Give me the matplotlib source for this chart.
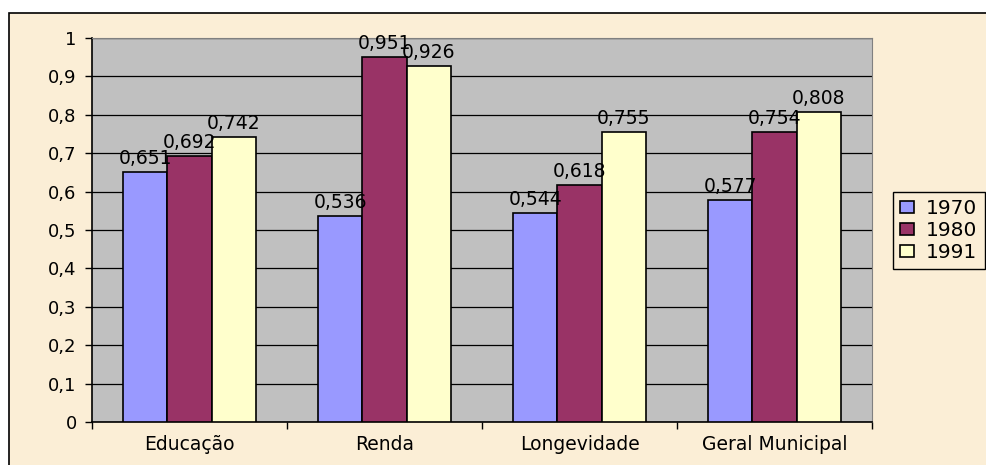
import matplotlib.pyplot as plt
import matplotlib.patches as mpatches
import numpy as np

categories = ["Educação", "Renda", "Longevidade", "Geral Municipal"]
years = ["1970", "1980", "1991"]
v1970 = [0.651, 0.536, 0.544, 0.577]
v1980 = [0.692, 0.951, 0.618, 0.754]
v1991 = [0.742, 0.926, 0.755, 0.808]
yticks = [0, 0.1, 0.2, 0.3, 0.4, 0.5, 0.6, 0.7, 0.8, 0.9, 1]

colors = ["#9999FF", "#993366", "#FFFFCC"]
beige = "#FBEED6"

plt.rcParams['font.family'] = ['DejaVu Sans']

fig = plt.figure(figsize=(9.86, 4.65), dpi=100, facecolor="white")

# beige chart area with black frame (only left/top edges fall inside the image)
bg = mpatches.Rectangle((9 / 986, -0.2), 1.5, 1.2 - 13 / 465,
                        transform=fig.transFigure, facecolor=beige,
                        edgecolor="black", linewidth=1.2, zorder=0)
fig.add_artist(bg)

ax = fig.add_axes([92 / 986, 43 / 465, 780 / 986, 384 / 465])
ax.set_facecolor("#C0C0C0")
ax.set_zorder(1)

x = np.arange(len(categories))
w = 0.226
series = [v1970, v1980, v1991]
for k, vals in enumerate(series):
    pos = x + (k - 1) * w
    ax.bar(pos, vals, width=w, color=colors[k], edgecolor="black",
           linewidth=1.2, label=years[k], zorder=3)
    for xi, v in zip(pos, vals):
        ax.annotate(f"{v:.3f}".replace(".", ","), (xi, v), xytext=(0, 3),
                    textcoords="offset points", ha="center", va="bottom",
                    fontsize=13.5, color="black", zorder=5)

ax.set_xlim(-0.5, len(categories) - 0.5)
ax.set_ylim(0, 1)
ax.set_yticks(yticks)
ax.set_yticklabels([f"{t:g}".replace(".", ",") for t in yticks], fontsize=13)
ax.yaxis.grid(True, color="black", linewidth=0.9, zorder=1)
ax.set_axisbelow(True)
ax.tick_params(axis="y", direction="out", length=5, width=1, pad=6)

ax.set_xticks(x)
ax.set_xticklabels(categories, fontsize=13.5)
ax.set_xticks(np.arange(len(categories) + 1) - 0.5, minor=True)
ax.tick_params(axis="x", which="major", length=0, pad=9)
ax.tick_params(axis="x", which="minor", direction="out", length=5, width=1)

ax.spines["left"].set_color("black")
ax.spines["bottom"].set_color("black")
ax.spines["left"].set_linewidth(1.2)
ax.spines["bottom"].set_linewidth(1.2)
ax.spines["top"].set_color("#808080")
ax.spines["right"].set_color("#808080")

leg = ax.legend(loc="upper left", bbox_to_anchor=(893 / 986, 1 - 192 / 465),
                bbox_transform=fig.transFigure, fontsize=14.5, frameon=True,
                fancybox=False, edgecolor="black", facecolor=beige,
                framealpha=1, handlelength=0.7, handleheight=0.6,
                handletextpad=0.6, borderpad=0.35, labelspacing=0.15,
                borderaxespad=0)
leg.get_frame().set_linewidth(1)

fig.savefig("out.png", dpi=100, facecolor="white")
